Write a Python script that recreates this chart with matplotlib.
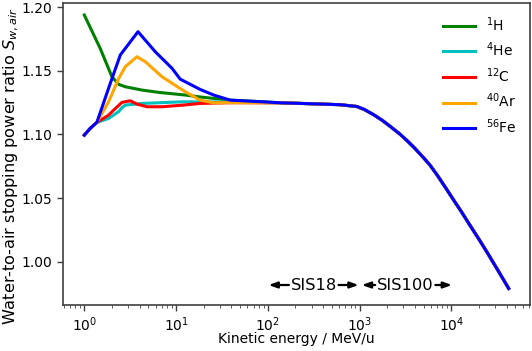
#!/usr/bin/env python3
"""Water-to-air stopping power ratio vs kinetic energy for several ions."""
import matplotlib
matplotlib.use("Agg")
import matplotlib.pyplot as plt

# ---------------------------------------------------------------------------
# data, energies in MeV/u
# ---------------------------------------------------------------------------
# low-energy start shared by He, C, Ar, Fe
start_E = [1.0, 1.16, 1.37]
start_S = [1.0995, 1.1048, 1.1095]

# high-energy tail, common to all ions
tail_E = [138, 316, 617, 933, 1122, 1413, 1778, 2188, 2754, 3311, 3981, 5012,
          5888, 6982, 8511, 10593, 12900, 16106, 19950, 24490, 31620, 42170]
tail_S = [1.1249, 1.1241, 1.1234, 1.1220, 1.1197, 1.1157, 1.1110, 1.1060,
          1.1003, 1.0950, 1.0893, 1.0815, 1.0757, 1.0683, 1.0590, 1.0485,
          1.0392, 1.0282, 1.0178, 1.0075, 0.9942, 0.979]

H_E = [1.0, 1.49, 2.0, 2.37, 2.80, 4.26, 6.46, 12.6, 18.2, 38.9, 89]
H_S = [1.1939, 1.1677, 1.1454, 1.1394, 1.1375, 1.1349, 1.1331, 1.1310, 1.1295, 1.1270, 1.1257]

He_E = [1.84, 2.37, 2.57, 2.80, 4.26, 12.0, 38.9]
He_S = [1.1126, 1.1180, 1.1210, 1.1231, 1.1244, 1.1257, 1.1255]

C_E = [1.84, 2.08, 2.57, 3.16, 3.75, 4.82, 7.03, 12.0, 18.2, 38.9]
C_S = [1.1152, 1.1190, 1.1252, 1.1265, 1.1239, 1.1218, 1.1218, 1.1231, 1.1244, 1.1250]

Ar_E = [1.84, 2.37, 2.80, 3.75, 4.62, 7.03, 12.0, 18.2, 25.7, 38.9]
Ar_S = [1.1257, 1.1440, 1.1533, 1.1611, 1.1572, 1.1454, 1.1345, 1.1270, 1.1249, 1.1250]

Fe_E = [1.92, 2.47, 3.85, 5.94, 9.04, 11.1, 18.2, 25.7, 38.9]
Fe_S = [1.1402, 1.1625, 1.1808, 1.1650, 1.1520, 1.1435, 1.1355, 1.1310, 1.1270]

labels = [r"$^{1}$H", r"$^{4}$He", r"$^{12}$C", r"$^{40}$Ar", r"$^{56}$Fe"]
colors = ["g", "c", "r", "orange", "b"]

yticks = [1.00, 1.05, 1.10, 1.15, 1.20]


def series():
    out = [(H_E + tail_E, H_S + tail_S)]
    for e, s in [(He_E, He_S), (C_E, C_S), (Ar_E, Ar_S), (Fe_E, Fe_S)]:
        out.append((start_E + e + tail_E, start_S + s + tail_S))
    return out


# ---------------------------------------------------------------------------
# plot
# ---------------------------------------------------------------------------
fig = plt.figure(figsize=(5.32, 3.51), dpi=100)
ax = fig.add_axes([0.1184, 0.1311, 0.8771, 0.8613])

for (e, s), lab, c in zip(series(), labels, colors):
    ax.plot(e, s, color=c, lw=2.2, label=lab)

ax.set_xscale("log")
ax.set_xlim(0.586, 71300)
ax.set_ylim(0.966, 1.2036)
ax.set_yticks(yticks)
ax.set_yticklabels([f"{v:.2f}" for v in yticks])

ax.set_xlabel("Kinetic energy / MeV/u", fontsize=10, va="top")
ax.xaxis.set_label_coords(0.5, -0.091)
ax.set_ylabel(r"Water-to-air stopping power ratio $S_{w,air}$", fontsize=11.6)
ax.yaxis.set_label_coords(-0.0905, 0.458)
ax.tick_params(labelsize=10, color="0.25", width=1.0, length=4)
ax.tick_params(axis="x", which="minor", length=2.5, color="0.25")
for sp in ax.spines.values():
    sp.set_color("0.25")
    sp.set_linewidth(1.2)

# accelerator ranges
y_sis = 0.9817
arrow = dict(arrowstyle="-|>,head_length=0.5,head_width=0.18", lw=1.6,
             color="black", shrinkA=0, shrinkB=0)
ax.text(316, y_sis, "SIS18", ha="center", va="center", fontsize=11.7)
ax.annotate("", xy=(102, y_sis), xytext=(170, y_sis), arrowprops=arrow)
ax.annotate("", xy=(975, y_sis), xytext=(590, y_sis), arrowprops=arrow)
ax.text(3160, y_sis, "SIS100", ha="center", va="center", fontsize=11.7)
ax.annotate("", xy=(1060, y_sis), xytext=(1480, y_sis), arrowprops=arrow)
ax.annotate("", xy=(10150, y_sis), xytext=(6700, y_sis), arrowprops=arrow)

ax.legend(loc="upper right", frameon=False, fontsize=10, handlelength=2.3)

fig.savefig("out.png", dpi=100)
